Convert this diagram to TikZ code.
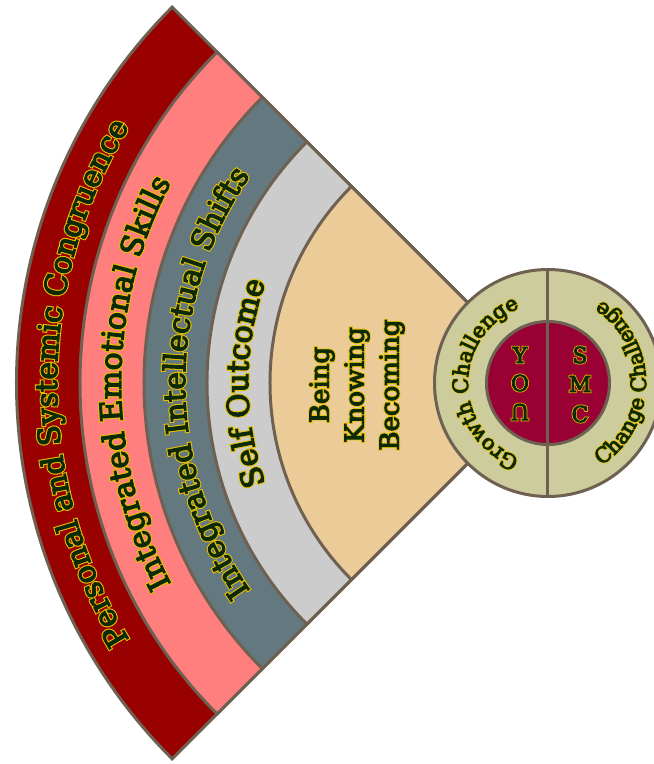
\documentclass[tikz,border=0pt]{standalone}
\usepackage{fontspec}
\usetikzlibrary{decorations.text}
\definecolor{edgebrown}{HTML}{6F6152}
\definecolor{bandred}{HTML}{990000}
\definecolor{bandpink}{HTML}{FF7F7F}
\definecolor{bandslate}{HTML}{647880}
\definecolor{bandgray}{HTML}{CCCCCC}
\definecolor{bandsand}{HTML}{EBCB98}
\definecolor{ringolive}{HTML}{CCCC9C}
\definecolor{corewine}{HTML}{990033}
\definecolor{inkgreen}{HTML}{0C2A08}
\definecolor{halogold}{HTML}{E8C000}
\newfontfamily\inkfamily{DejaVu Serif}[FakeBold=4]
\newfontfamily\halofamily{DejaVu Serif}[FakeBold=11]
\newcommand\bandink{\inkfamily\fontsize{30}{36}\selectfont\color{inkgreen}}
\newcommand\bandhalo{\halofamily\fontsize{30}{36}\selectfont\color{halogold}}
\newcommand\ringink{\inkfamily\fontsize{21}{25}\selectfont\color{inkgreen}}
\newcommand\ringhalo{\halofamily\fontsize{21}{25}\selectfont\color{halogold}}
\newcommand\haloed[1]{\makebox[0pt][l]{\halofamily\color{halogold}#1}#1}

\begin{document}
\begin{tikzpicture}[x=1pt, y=1pt,
  sector/.style={draw=edgebrown, line width=3pt},
  bandtext/.style={
    preaction={decorate, decoration={text along path, text align=center, text={|\bandhalo|#1}}},
    postaction={decorate, decoration={text along path, text align=center, text={|\bandink|#1}}}},
  ringtext/.style={
    preaction={decorate, decoration={text along path, text align=center, text={|\ringhalo|#1}}},
    postaction={decorate, decoration={text along path, text align=center, text={|\ringink|#1}}}},
  coreletter/.style={font=\inkfamily\fontsize{22}{26}\selectfont, text=inkgreen, inner sep=0pt}]
  \useasboundingbox (-548,-381) rectangle (106,383);

  % the fan, outer band first
  \draw[sector, fill=bandred] (0,0) -- (135:531.5) arc[start angle=135, end angle=225, radius=531.5] -- cycle;
  \draw[sector, fill=bandpink] (0,0) -- (135:468) arc[start angle=135, end angle=225, radius=468] -- cycle;
  \draw[sector, fill=bandslate] (0,0) -- (135:404) arc[start angle=135, end angle=225, radius=404] -- cycle;
  \draw[sector, fill=bandgray] (0,0) -- (135:341) arc[start angle=135, end angle=225, radius=341] -- cycle;
  \draw[sector, fill=bandsand] (0,0) -- (135:278) arc[start angle=135, end angle=225, radius=278] -- cycle;

  \path[bandtext={Personal and Systemic Congruence}] (230:491) arc[start angle=230, end angle=130, radius=491];
  \path[bandtext={Integrated Emotional Skills}] (230:427) arc[start angle=230, end angle=130, radius=427];
  \path[bandtext={Integrated Intellectual Shifts}] (230:363) arc[start angle=230, end angle=130, radius=363];
  \path[bandtext={Self Outcome}] (230:300) arc[start angle=230, end angle=130, radius=300];
  \node[rotate=90, align=center, text=inkgreen, font=\inkfamily\fontsize{26}{35}\selectfont] (bkb) at (-191,-2)
    {\haloed{Being}\\\haloed{Knowing}\\\haloed{Becoming}};

  % the circle
  \draw[sector, fill=ringolive] (0,0) circle[radius=113.5];
  \draw[sector, fill=corewine] (0,0) circle[radius=61.5];
  \draw[edgebrown, line width=3pt] (0,113.5) -- (0,-113.5);
  \path[ringtext={Growth Challenge}] (260:80) arc[start angle=260, end angle=100, radius=80];
  \path[ringtext={Change Challenge}] (-80:98) arc[start angle=-80, end angle=80, radius=98];

  \node[coreletter] (you-y) at (-28,28) {\haloed{Y}};
  \node[coreletter] (you-o) at (-28,0) {\haloed{O}};
  \node[coreletter, rotate=180] (you-u) at (-28,-29) {\haloed{U}};
  \node[coreletter] (smc-s) at (32,28) {\haloed{S}};
  \node[coreletter] (smc-m) at (32,-1) {\haloed{M}};
  \node[coreletter] (smc-c) at (32,-31) {\haloed{C}};
\end{tikzpicture}
\end{document}
